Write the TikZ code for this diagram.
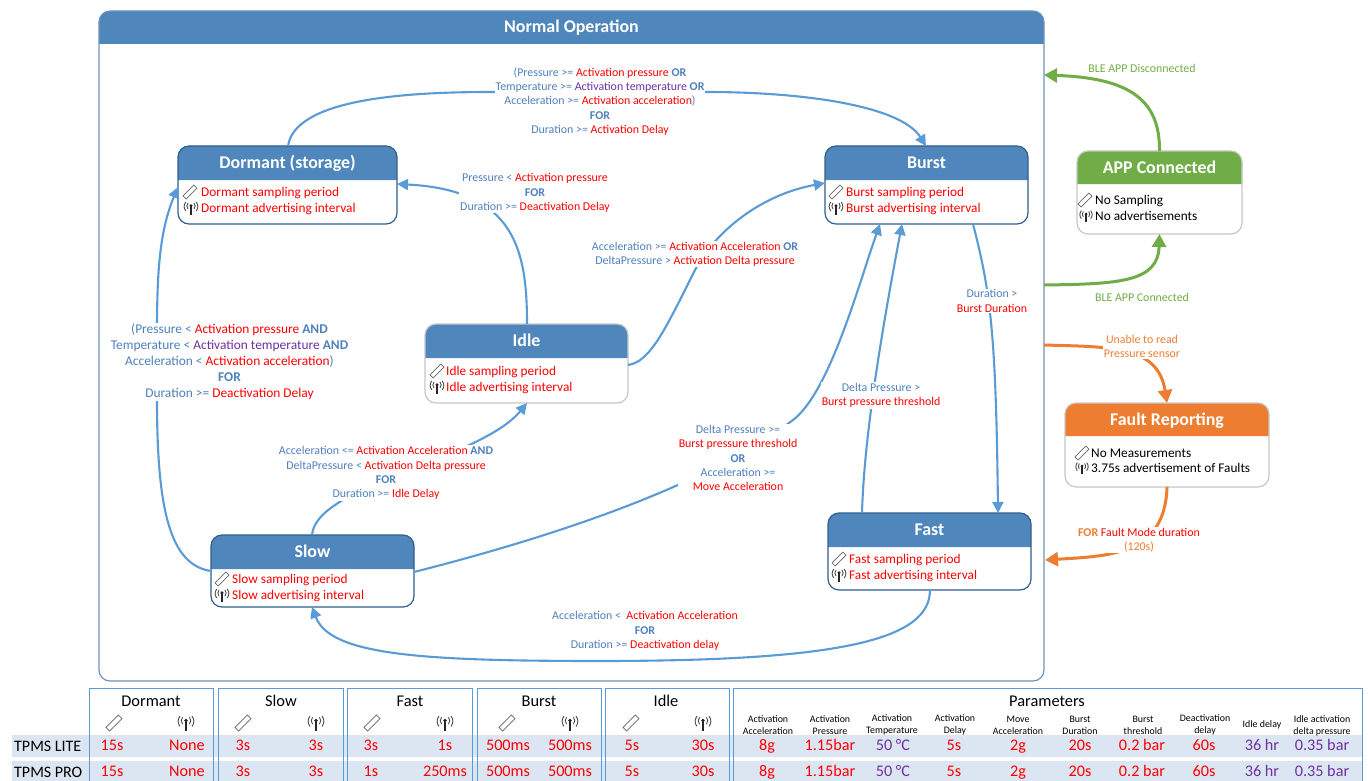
\documentclass[tikz,border=0pt]{standalone}
\usepackage{fontspec}
\setmainfont{Carlito}
\usetikzlibrary{arrows.meta,calc}
\definecolor{hblue}{HTML}{4F86BC}
\definecolor{bdark}{HTML}{2F5F8F}
\definecolor{lblue}{HTML}{5B9BD5}
\definecolor{tblue}{HTML}{4F81BD}
\definecolor{fblue}{HTML}{6F93C0}
\definecolor{tpur}{HTML}{7030A0}
\definecolor{cgreen}{HTML}{70AD47}
\definecolor{corange}{HTML}{ED7D31}
\definecolor{band}{HTML}{DCE6F2}
\newcommand{\txr}[1]{\textcolor{red}{#1}}
\newcommand{\txp}[1]{\textcolor{tpur}{#1}}
\newcommand{\txb}[1]{\textbf{#1}}
\newcommand{\fsz}[2]{\fontsize{#1}{#2}\selectfont}
\tikzset{
 x=1pt,y=-1pt,
 sens/.pic={\draw[gray!80!black,line width=.7pt,fill=white] (-7,3.8)--(-3.8,7)--(7,-3.8)--(3.8,-7)--cycle;},
 ante/.pic={
  \fill[black!85] (0,-2.2) circle (1.7);
  \draw[black!85,line width=1.1pt] (0,-2)--(0,7);
  \draw[black!70,line width=.9pt] (-3,-5) .. controls (-4.5,-3) and (-4.5,-1) .. (-3,1);
  \draw[black!70,line width=.9pt] (3,-5) .. controls (4.5,-3) and (4.5,-1) .. (3,1);
  \draw[black!70,line width=.9pt] (-5.2,-6) .. controls (-7.4,-3) and (-7.4,0) .. (-5.2,3);
  \draw[black!70,line width=.9pt] (5.2,-6) .. controls (7.4,-3) and (7.4,0) .. (5.2,3);},
 conn/.style={draw=lblue,line width=2.1pt,-{Triangle[length=11pt,width=11pt]}},
 gconn/.style={draw=cgreen,line width=3pt,-{Triangle[length=13pt,width=14pt]}},
 oconn/.style={draw=corange,line width=3pt,-{Triangle[length=13pt,width=14pt]}},
 lab/.style={align=center,text=tblue,font=\fsz{11.9}{14.3},fill=white,inner sep=1pt},
 labbig/.style={align=center,text=tblue,font=\fsz{13.4}{16},fill=white,inner sep=1pt},
 stitle/.style={text=white,font=\bfseries\fsz{17.9}{18},inner sep=0pt,text height=14pt,text depth=3pt},
 sline/.style={anchor=west,font=\fsz{13.3}{15},inner sep=0pt,text=red,text height=10pt,text depth=2pt},
 bline/.style={anchor=west,font=\fsz{13.3}{15},inner sep=0pt,text=black,text height=10pt,text depth=2pt},
 tval/.style={font=\fsz{16.2}{17},inner sep=0pt,text=red,text height=11pt,text depth=3.5pt},
 tpval/.style={font=\fsz{16.2}{17},inner sep=0pt,text=tpur,text height=11pt,text depth=3.5pt},
 thead/.style={font=\fsz{16.4}{18},inner sep=0pt,text=black},
 tsub/.style={font=\fsz{9.9}{12},inner sep=0pt,text=black,align=center},
 trow/.style={font=\fsz{16}{18},inner sep=0pt,text=black,anchor=west},
 tbox/.style={draw=lblue,line width=1pt},
}
% name x y w h headerheight fill border title
\newcommand{\statebox}[9]{%
 \fill[#7] (#2,#3+#6) [rounded corners=11pt] -- (#2,#3) -- (#2+#4,#3) [sharp corners] -- (#2+#4,#3+#6) -- cycle;
 \node[draw=#8,line width=1.2pt,rounded corners=11pt,minimum width=#4pt,minimum height=#5pt,inner sep=0pt,outer sep=0pt,anchor=north west] (#1) at (#2,#3) {};
 \node[stitle] (#1-t) at (#2+#4/2,#3+#6/2) {#9};
}
\begin{document}
\begin{tikzpicture}
\useasboundingbox (0,0) rectangle (1368,781);
\fill[white] (0,0) rectangle (1368,781);
% table bands
\fill[band] (12,735) rectangle (1362,757);
\fill[band] (12,761) rectangle (1362,781);
\foreach \a/\b in {89/213,218/343,347/472,477/601,605/729,733/1362}{
 \draw[tbox] (\a,781)--(\a,688)--(\b,688)--(\b,781);}
\node[thead] (hd) at (151,701) {Dormant};
\node[thead] (hs) at (281,701) {Slow};
\node[thead] (hf) at (410,701) {Fast};
\node[thead] (hb) at (539,701) {Burst};
\node[thead] (hi) at (666,701) {Idle};
\node[thead] (hp) at (1047,701) {Parameters};
\foreach \p in {114,243,372,507,631}{\pic[scale=1.15] at (\p,723) {sens};}
\foreach \p in {186,316,445,570,703}{\pic[scale=1.15] at (\p,723) {ante};}
\node[tsub] (p1) at (768,725) {Activation\\Acceleration};
\node[tsub] (p2) at (830,725) {Activation\\Pressure};
\node[tsub] (p3) at (892,725) {Activation\\Temperature};
\node[tsub] (p4) at (955,725) {Activation\\Delay};
\node[tsub] (p5) at (1018,725) {Move\\Acceleration};
\node[tsub] (p6) at (1080,725) {Burst\\Duration};
\node[tsub] (p7) at (1143,725) {Burst\\threshold};
\node[tsub] (p8) at (1205,725) {Deactivation\\delay};
\node[tsub] (p9) at (1262,725) {Idle delay};
\node[tsub] (p10) at (1322,726) {Idle activation\\delta pressure};
\node[trow] (rl) at (14,746) {TPMS LITE};
\node[trow] (rp) at (14,772) {TPMS PRO};
\foreach \yy/\ff/\ss in {747/3s/1s,773/1s/250ms}{
 \node[tval] at (112,\yy) {15s};
 \node[tval] at (187,\yy) {None};
 \node[tval] at (243,\yy) {3s};
 \node[tval] at (316,\yy) {3s};
 \node[tval] at (371,\yy) {\ff};
 \node[tval] at (445,\yy) {\ss};
 \node[tval] at (508,\yy) {500ms};
 \node[tval] at (570,\yy) {500ms};
 \node[tval] at (632,\yy) {5s};
 \node[tval] at (703,\yy) {30s};
 \node[tval] at (767,\yy) {8g};
 \node[tval] at (830,\yy) {1.15bar};
 \node[tpval] at (893,\yy) {50 °C};
 \node[tval] at (954,\yy) {5s};
 \node[tval] at (1018,\yy) {2g};
 \node[tval] at (1080,\yy) {20s};
 \node[tval] at (1142,\yy) {0.2 bar};
 \node[tval] at (1204,\yy) {60s};
 \node[tpval] at (1262,\yy) {36 hr};
 \node[tpval] at (1322,\yy) {0.35 bar};
}
% frame
\statebox{normal}{99}{11}{945}{670}{33}{hblue}{fblue}{Normal Operation}
% states
\statebox{dormant}{178}{146}{219}{78}{34}{hblue}{bdark}{Dormant (storage)}
\statebox{burst}{825}{146}{203}{78}{34}{hblue}{bdark}{Burst}
\statebox{idle}{425}{324}{203}{79}{34}{hblue}{black!22}{Idle}
\statebox{slow}{211}{535}{203}{72}{34}{hblue}{bdark}{Slow}
\statebox{fast}{828}{513}{203}{77}{34}{hblue}{bdark}{Fast}
\statebox{app}{1077}{151}{165}{83}{33}{cgreen}{black!22}{APP Connected}
\statebox{fault}{1065}{403}{204}{84}{33}{corange}{black!22}{Fault Reporting}
% state contents
\pic at (190,192) {sens}; \pic at (191,208) {ante};
\node[sline] (d1) at (201,192) {Dormant sampling period};
\node[sline] (d2) at (201,208) {Dormant advertising interval};
\pic at (836,192) {sens}; \pic at (836,208) {ante};
\node[sline] (b1) at (846,192) {Burst sampling period};
\node[sline] (b2) at (846,208) {Burst advertising interval};
\pic at (437,371) {sens}; \pic at (437,387) {ante};
\node[sline] (i1) at (446,371) {Idle sampling period};
\node[sline] (i2) at (446,387) {Idle advertising interval};
\pic at (222,579) {sens}; \pic at (222,595) {ante};
\node[sline] (s1) at (232,579) {Slow sampling period};
\node[sline] (s2) at (232,595) {Slow advertising interval};
\pic at (839,559) {sens}; \pic at (839,575) {ante};
\node[sline] (f1) at (849,559) {Fast sampling period};
\node[sline] (f2) at (849,575) {Fast advertising interval};
\pic at (1085,200) {sens}; \pic[scale=.9] at (1086,216) {ante};
\node[bline] (a1) at (1095,200) {No Sampling};
\node[bline] (a2) at (1095,216) {No advertisements};
\pic at (1082,453) {sens}; \pic[scale=.9] at (1082,468) {ante};
\node[bline] (e1) at (1091,453) {No Measurements};
\node[bline] (e2) at (1091,468) {3.75s advertisement of Faults};
% connectors
\draw[conn] ($(dormant.north west)+(110,0)$) .. controls (295,100) and (400,92) .. (490,92) -- (707,92) .. controls (800,92) and (900,105) .. ($(burst.north west)+(101,0)$);
\draw[conn] ($(idle.north west)+(102,0)$) .. controls (527,250) and (515,190) .. (dormant.east|-0,184);
\draw[conn] (idle.east|-0,365) .. controls (650,362) and (665,330) .. (695,270) .. controls (715,232) and (760,195) .. (burst.west|-0,183);
\draw[conn] ($(slow.north west)+(101,0)$) .. controls (316,485) and (480,460) .. ($(idle.south west)+(102,0)$);
\draw[conn] (slow.west|-0,571) .. controls (170,565) and (157,510) .. (157,400) -- (157,330) .. controls (157,270) and (160,230) .. (dormant.west|-0,187);
\draw[conn] (slow.east|-0,572) .. controls (540,540) and (700,490) .. (793,420) .. controls (830,392) and (860,280) .. ($(burst.south west)+(55,0)$);
\draw[conn] ($(fast.north west)+(34,0)$) .. controls (864,440) and (880,340) .. ($(burst.south west)+(77,0)$);
\draw[conn] ($(burst.south west)+(148,0)$) .. controls (990,290) and (996,330) .. ($(fast.north west)+(170,0)$);
\draw[conn] ($(fast.south west)+(102,0)$) .. controls (930,640) and (840,661) .. (600,661) .. controls (420,661) and (330,655) .. ($(slow.south west)+(101,0)$);
\draw[gconn] ($(normal.north east)+(0,274)$) .. controls (1120,284) and (1158,282) .. (app.south);
\draw[gconn] (app.north) .. controls (1160,100) and (1130,78) .. ($(normal.north east)+(0,64)$);
\draw[oconn] ($(normal.north east)+(0,334)$) .. controls (1110,347) and (1158,345) .. (fault.north);
\draw[oconn] (fault.south) .. controls (1165,555) and (1110,556) .. ($(normal.north east)+(1,549)$);
% labels
\node[lab] (l1) at (600,101.5) {(Pressure >= \txr{Activation pressure} \txb{OR}\\Temperature >= \txp{Activation temperature} \txb{OR}\\Acceleration >= \txr{Activation acceleration})\\\txb{FOR}\\Duration >= \txr{Activation Delay}};
\node[lab] (l2) at (535,193) {Pressure < \txr{Activation pressure}\\\txb{FOR}\\Duration >= \txr{Deactivation Delay}};
\node[lab] (l3) at (695,254) {Acceleration >= \txr{Activation Acceleration} \txb{OR}\\DeltaPressure > \txr{Activation Delta pressure}};
\node[labbig] (l4) at (229.5,362) {(Pressure < \txr{Activation pressure} \txb{AND}\\Temperature < \txp{Activation temperature} \txb{AND}\\Acceleration < \txr{Activation acceleration})\\\txb{FOR}\\Duration >= \txr{Deactivation Delay}};
\node[lab] (l5) at (386,473) {Acceleration <= \txr{Activation Acceleration} \txb{AND}\\DeltaPressure < \txr{Activation Delta pressure}\\\txb{FOR}\\Duration >= \txr{Idle Delay}};
\node[lab] (l6) at (738,458) {Delta Pressure >=\\\txr{Burst pressure threshold}\\\txb{OR}\\Acceleration >=\\\txr{Move Acceleration}};
\node[lab] (l7) at (881,395.5) {Delta Pressure >\\\txr{Burst pressure threshold}};
\node[lab] (l8) at (992,301) {Duration >\\\txr{Burst Duration}};
\node[lab,fill=none] (l9) at (645,631) {Acceleration < \ \txr{Activation Acceleration}\\\txb{FOR}\\Duration >= \txr{Deactivation delay}};
\node[lab,text=cgreen] (l10) at (1142,68) {BLE APP Disconnected};
\node[lab,text=cgreen] (l11) at (1142,297) {BLE APP Connected};
\node[lab,text=corange] (l12) at (1142,346.5) {Unable to read\\Pressure sensor};
\node[lab,text=corange] (l13) at (1139,540) {\txb{FOR} \txr{Fault Mode duration}\\(120s)};
\end{tikzpicture}
\end{document}
